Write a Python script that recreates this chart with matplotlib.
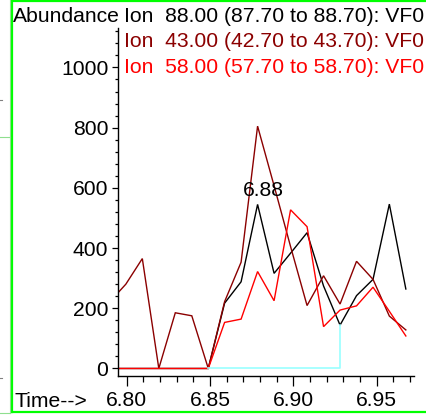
import numpy as np
import matplotlib
matplotlib.use('Agg')
import matplotlib.pyplot as plt
from matplotlib.lines import Line2D
from matplotlib.ticker import MultipleLocator, FormatStrFormatter

plt.rcParams['font.family'] = ['Liberation Sans', 'DejaVu Sans']

# scan times (min) and extracted ion abundances
time = [6.7896, 6.7995, 6.8094, 6.8193, 6.8292, 6.8391, 6.8490, 6.8588,
        6.8687, 6.8786, 6.8885, 6.8984, 6.9083, 6.9182, 6.9281, 6.9380,
        6.9479, 6.9577, 6.9676]
ion88 = [0, 0, 0, 0, 0, 0, 0, 217, 288, 545, 316, 383, 451, 274, 144, 242,
         296, 546, 264]
ion43 = [220, 280, 365, 0, 185, 175, 0, 222, 353, 805, 607, 405, 209, 308,
         214, 356, 296, 174, 128]
ion58 = [0, 0, 0, 0, 0, 0, 0, 153, 164, 322, 225, 527, 471, 139, 194, 208,
         270, 190, 108]

labels = ['Ion  88.00 (87.70 to 88.70): VF0',
          'Ion  43.00 (42.70 to 43.70): VF0',
          'Ion  58.00 (57.70 to 58.70): VF0']
colors = ['black', '#8b0000', '#ff0000']
series = [ion88, ion43, ion58]

# integration baseline: start / end scan index
int_start, int_end = 6, 14

W, H = 426, 415
FS = 15.2


def fx(px):
    return px / W


def fy(py):
    return 1 - py / H


fig = plt.figure(figsize=(W / 100, H / 100), dpi=100, facecolor='w')
ax = fig.add_axes([fx(118), fy(376), fx(414) - fx(118), fy(28) - fy(376)])

for vals, c in zip(series, colors):
    ax.plot(time, vals, color=c, lw=1.0, solid_joinstyle='miter')

# baseline of the integrated peak
bx = [time[int_start], time[int_end], time[int_end]]
by = [0, 0, ion88[int_end]]
ax.plot(bx, by, color='#99ffff', lw=1.2)

# retention time of the apex inside the integration window
ipk = int_start + int(np.argmax(ion88[int_start:int_end + 1]))
ax.annotate('%.2f' % time[ipk], xy=(time[ipk], ion88[ipk]),
            xytext=(4.5, 3.5), textcoords='offset points',
            ha='center', va='bottom', fontsize=FS)

ax.set_xlim(6.7948, 6.9725)
ax.set_ylim(-25, 1131)

for s in ['top', 'right']:
    ax.spines[s].set_visible(False)
for s in ['left', 'bottom']:
    ax.spines[s].set_linewidth(1.0)

ax.xaxis.set_major_locator(MultipleLocator(0.05))
ax.xaxis.set_minor_locator(MultipleLocator(0.01))
ax.xaxis.set_major_formatter(FormatStrFormatter('%.2f'))
ax.yaxis.set_major_locator(MultipleLocator(200))
ax.yaxis.set_minor_locator(MultipleLocator(40))

ax.tick_params(axis='x', which='major', length=7, width=0.9, pad=4,
               labelsize=FS)
ax.tick_params(axis='x', which='minor', length=4, width=0.9)
ax.tick_params(axis='y', which='major', length=4, width=0.9, pad=3,
               labelsize=FS)
ax.tick_params(axis='y', which='minor', length=2, width=0.9)

# header: y label and ion legend
fig.text(fx(13), fy(21.5), 'Abundance', fontsize=FS, va='baseline')
for i, (lab, c) in enumerate(zip(labels, colors)):
    fig.text(fx(124), fy(21.5 + 25.8 * i), lab, color=c, fontsize=FS,
             va='baseline')
fig.text(fx(14), fy(407), 'Time-->', fontsize=FS, va='baseline')

# window frame
frame = dict(transform=fig.transFigure, color='#00ff00', lw=1.6)
fig.add_artist(Line2D([fx(11.8), fx(11.8)], [fy(0.8), fy(411.5)], **frame))
fig.add_artist(Line2D([fx(11.8), fx(426)], [fy(0.8), fy(0.8)], **frame))
fig.add_artist(Line2D([fx(11.8), fx(426)], [fy(411.5), fy(411.5)], **frame))

edge = dict(transform=fig.transFigure, color='#8fdf8f', lw=0.8)
fig.add_artist(Line2D([fx(10), fx(10)], [fy(0), fy(412.5)], **edge))
fig.add_artist(Line2D([fx(0), fx(10)], [fy(136.7), fy(136.7)], **edge))
fig.add_artist(Line2D([fx(0), fx(10)], [fy(412.5), fy(412.5)], **edge))
for yy in [100, 378]:
    fig.add_artist(Line2D([fx(0), fx(1.5)], [fy(yy), fy(yy)],
                          transform=fig.transFigure, color='0.5', lw=0.8))

fig.savefig('out.png', dpi=100)
